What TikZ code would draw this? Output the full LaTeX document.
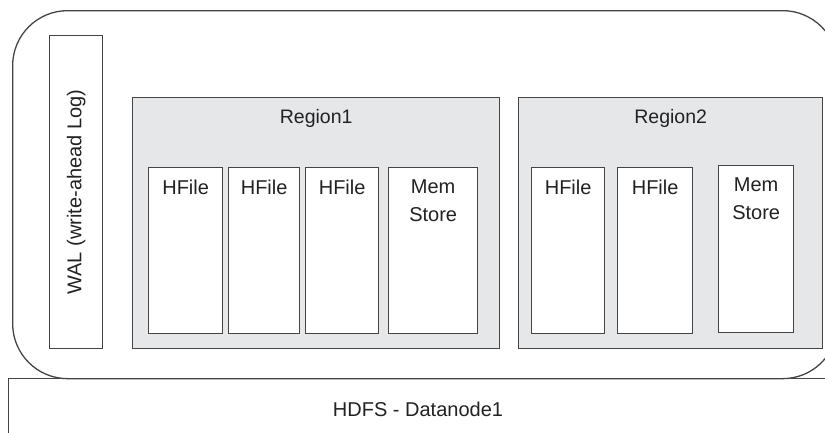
\documentclass[tikz,border=0pt]{standalone}
\usepackage{fontspec}
\setmainfont{Liberation Sans}
\usetikzlibrary{positioning}
\definecolor{linegray}{HTML}{444444}
\definecolor{fillgray}{HTML}{E6E7E9}
\definecolor{textgray}{HTML}{222222}

\begin{document}
\begin{tikzpicture}[
    x=1pt, y=-1pt,
    box/.style={rectangle, draw=linegray, line width=1.3pt, fill=white, anchor=north west, inner sep=0pt},
    region/.style={box, fill=fillgray, minimum height=251pt},
    store/.style={box, minimum height=166pt},
    txt/.style={font=\fontsize{20}{28}\selectfont, text=textgray, align=center, inner sep=0pt},
    title/.style={txt, font=\fontsize{19.5}{22}\selectfont}
]
    \useasboundingbox (0,0) rectangle (825,432);
    \begin{scope}
        \clip (0,0) rectangle (825,432);
        % Region server outline and the datanode below it, both run off the right edge
        \node[box, minimum width=830pt, minimum height=70pt] (hdfs) at (8,378) {};
        \node[box, fill=none, rounded corners=55pt, minimum width=825pt, minimum height=368pt] (server) at (12,10) {};
    \end{scope}
    \node[txt] (hdfslbl) at (418,409) {HDFS - Datanode1};

    % Write-ahead log
    \node[box, minimum width=53pt, minimum height=313pt] (wal) at (49,35) {};
    \node[txt, rotate=90] (wallbl) at (wal.center) {WAL (write-ahead Log)};

    % Region 1
    \node[region, minimum width=367pt] (r1) at (132,97) {};
    \node[title, below=12pt of r1.north] (r1lbl) {Region1};
    \node[store, minimum width=74pt] (h1) at (148,167) {};
    \node[store, minimum width=71pt] (h2) at (228,167) {};
    \node[store, minimum width=73pt] (h3) at (305,167) {};
    \node[store, minimum width=89pt] (m1) at (388,167) {};
    \node[txt, below=13pt of h1.north] {HFile};
    \node[txt, below=13pt of h2.north] {HFile};
    \node[txt, below=13pt of h3.north] {HFile};
    \node[txt, below=13pt of m1.north] {Mem\\Store};

    % Region 2
    \node[region, minimum width=304pt] (r2) at (518,97) {};
    \node[title, below=12pt of r2.north] (r2lbl) {Region2};
    \node[store, minimum width=73pt] (h4) at (531,167) {};
    \node[store, minimum width=75pt] (h5) at (617,167) {};
    \node[store, minimum width=75pt, minimum height=167pt] (m2) at (718,165) {};
    \node[txt, below=13pt of h4.north] {HFile};
    \node[txt, below=13pt of h5.north] {HFile};
    \node[txt, below=13pt of m2.north] {Mem\\Store};
\end{tikzpicture}
\end{document}
